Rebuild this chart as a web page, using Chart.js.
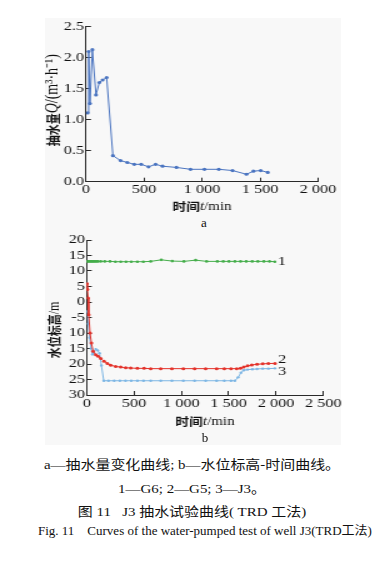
<!DOCTYPE html>
<html>
<head>
<meta charset="utf-8">
<script src="https://cdn.jsdelivr.net/npm/chart.js@4.4.1/dist/chart.umd.min.js"></script>
<style>
  body { margin: 0; width: 384px; height: 563px; background: #fff; position: relative; overflow: hidden;
         font-family: "Liberation Serif", "Noto Sans CJK SC", serif; color: #111; }
  #panel { position: absolute; left: 45px; top: 18px; width: 296px; height: 427px; background: #f8f8f8; }
  .wrap { position: absolute; left: 0; width: 307px; transform: scaleX(1.25); transform-origin: 0 0; }
  #wrapA { top: 0; height: 215px; }
  #wrapB { top: 225px; height: 210px; }
  .sub { position: absolute; font-size: 13px; line-height: 14px; width: 20px; text-align: center; }
  .cap { position: absolute; left: 0; width: 384px; text-align: center; font-size: 13px; line-height: 16px;
         white-space: nowrap; transform: scaleX(1.15); transform-origin: 192px 50%; }
  #cap4 { text-align: left; left: 38px; width: auto; transform: scaleX(1.04); transform-origin: 0 50%; font-size: 12.5px; }
</style>
</head>
<body>
<div id="panel"></div>
<div class="wrap" id="wrapA"><canvas id="chartA"></canvas></div>
<div class="sub" style="left:194px;top:216px;">a</div>
<div class="wrap" id="wrapB"><canvas id="chartB"></canvas></div>
<div class="sub" style="left:195px;top:431px;">b</div>
<div class="cap" style="top:457px;">a—抽水量变化曲线; b—水位标高-时间曲线。</div>
<div class="cap" style="top:481px;">1—G6; 2—G5; 3—J3。</div>
<div class="cap" style="top:504px;">图 11&nbsp;&nbsp;&nbsp;J3 抽水试验曲线( TRD 工法)</div>
<div class="cap" id="cap4" style="top:523px;">Fig. 11&nbsp;&nbsp;&nbsp;&nbsp;Curves of the water-pumped test of well J3(TRD工法)</div>

<script>
// ---- 图 a: 抽水量 ----
const timeA = [14, 23, 34, 55, 86, 115, 143, 178, 232, 298, 356, 416, 476, 539, 600, 660, 780, 901, 1021, 1145, 1263, 1383, 1443, 1506, 1567];
const flowA = [1.11, 2.10, 1.26, 2.13, 1.40, 1.60, 1.64, 1.68, 0.42, 0.34, 0.31, 0.28, 0.28, 0.24, 0.28, 0.25, 0.23, 0.20, 0.20, 0.20, 0.18, 0.12, 0.17, 0.18, 0.15];
const xTicksA = [0, 500, 1000, 1500, 2000];
const xLabelsA = ['0', '500', '1 000', '1 500', '2 000'];
const yTicksA = [0, 0.5, 1, 1.5, 2, 2.5];
const yLabelsA = ['0.0', '0.5', '1.0', '1.5', '2.0', '2.5'];

// ---- 图 b: 水位标高 ----
const timeG6 = [0, 12, 25, 38, 50, 63, 76, 90, 105, 120, 148, 190, 246, 303, 359, 415, 471, 535, 598, 676, 788, 904, 1027, 1151, 1267, 1380, 1443, 1503, 1566, 1626, 1686, 1749, 1809, 1872, 1932, 1988];
const levelG6 = [13.1, 13.1, 13.1, 13.1, 13.1, 13.1, 13.1, 13.1, 13.1, 13.1, 13.1, 13.1, 13.1, 13.0, 13.0, 13.0, 13.0, 13.0, 13.0, 13.1, 13.6, 13.2, 13.1, 13.5, 13.1, 13.1, 13.1, 13.1, 13.1, 13.1, 13.1, 13.1, 13.1, 13.1, 13.1, 13.0];
const timeG5 = [0, 7, 14, 21, 35, 49, 67, 95, 120, 148, 183, 218, 254, 306, 359, 412, 465, 535, 606, 676, 782, 900, 1021, 1140, 1257, 1373, 1454, 1525, 1585, 1625, 1660, 1700, 1745, 1800, 1860, 1920, 1990];
const levelG5 = [6.0, 4.0, 1.3, -4.1, -10.0, -13.2, -15.9, -17.0, -17.5, -18.2, -19.1, -19.8, -20.4, -20.8, -21.0, -21.2, -21.3, -21.4, -21.4, -21.5, -21.5, -21.5, -21.5, -21.5, -21.5, -21.5, -21.5, -21.5, -21.5, -21.4, -21.0, -20.6, -20.3, -20.1, -19.95, -19.85, -19.8];
const timeJ3 = [5, 15, 30, 45, 60, 75, 95, 115, 135, 155, 180, 230, 290, 350, 410, 470, 535, 600, 676, 782, 900, 1021, 1140, 1257, 1373, 1454, 1525, 1566, 1600, 1630, 1660, 1700, 1750, 1800, 1860, 1920, 1989];
const levelJ3 = [-3.0, -7.0, -11.5, -15.0, -16.9, -16.3, -15.2, -15.6, -16.5, -20.5, -25.4, -25.4, -25.4, -25.4, -25.4, -25.4, -25.4, -25.4, -25.4, -25.4, -25.4, -25.4, -25.4, -25.4, -25.4, -25.4, -25.4, -25.4, -24.3, -22.8, -22.0, -21.8, -21.7, -21.6, -21.5, -21.5, -21.4];
const xTicksB = [0, 500, 1000, 1500, 2000, 2500];
const xLabelsB = ['0', '500', '1 000', '1 500', '2 000', '2 500'];
const yTicksB = [20, 15, 10, 5, 0, -5, -10, -15, -20, -25, -30];
const yLabelsB = ['20', '15', '10', '5', '0', '-5', '10', '15', '20', '25', '30'];

const AXIS = '#2a2a2a';
const TICK_FONT = { family: '"Liberation Serif", serif', size: 13 };
const CJK_BOLD = 'bold 11px "Noto Sans CJK SC"';
const SERIF = '12px "Liberation Serif"';
const SERIF_I = 'italic 12px "Liberation Serif"';
const SERIF_BIG = '14px "Liberation Serif"';
const SERIF_BIG_I = 'italic 14px "Liberation Serif"';

function toPoints(xs, ys) {
    return xs.map((x, i) => ({ x: x, y: ys[i] }));
}

// 轴标题: 分段不同字体
function drawRuns(ctx, runs, cx, cy, rot) {
    let total = 0;
    runs.forEach(r => { ctx.font = r.font; total += ctx.measureText(r.text).width; });
    ctx.save();
    ctx.translate(cx, cy);
    ctx.rotate(rot);
    ctx.textAlign = 'left';
    ctx.textBaseline = 'middle';
    let x = -total / 2;
    runs.forEach(r => {
        ctx.font = r.font;
        ctx.fillText(r.text, x, 0);
        x += ctx.measureText(r.text).width;
    });
    ctx.restore();
}

const axisTitlePlugin = {
    id: 'axisTitle',
    afterDraw(chart, args, opts) {
        const { ctx, chartArea } = chart;
        ctx.save();
        ctx.fillStyle = '#111';
        drawRuns(ctx, opts.y, chartArea.left + opts.yDx, (chartArea.top + chartArea.bottom) / 2 + opts.yDy, -Math.PI / 2);
        drawRuns(ctx, opts.x, (chartArea.left + chartArea.right) / 2, chartArea.bottom + opts.xDy, 0);
        ctx.restore();
    }
};

// 曲线末端编号 1/2/3
const endLabelPlugin = {
    id: 'endLabel',
    afterDatasetsDraw(chart, args, opts) {
        if (!opts.show) return;
        const ctx = chart.ctx;
        ctx.save();
        ctx.font = '13px "Liberation Serif"';
        ctx.fillStyle = '#111';
        ctx.textBaseline = 'middle';
        chart.data.datasets.forEach((ds, i) => {
            const pts = chart.getDatasetMeta(i).data;
            const last = pts[pts.length - 1];
            ctx.fillText(ds.label, last.x + 2.5, last.y + opts.dy[i]);
        });
        ctx.restore();
    }
};

function makeScale(min, max, ticks, labels, isX, fitSize) {
    return {
        type: 'linear',
        min: min,
        max: max,
        afterBuildTicks: s => { s.ticks = ticks.map(v => ({ value: v })); },
        afterFit: s => { if (isX) s.height = fitSize; else s.width = fitSize; },
        ticks: {
            color: '#111',
            font: TICK_FONT,
            padding: isX ? 4.5 : 5.5,
            maxRotation: 0,
            autoSkip: false,
            callback: (v, i) => labels[i]
        },
        grid: { drawOnChartArea: false, drawTicks: true, tickLength: -4, color: AXIS, tickColor: AXIS, lineWidth: 1 },
        border: { display: true, color: AXIS, width: 1 }
    };
}

function seriesStyle(color, r) {
    return {
        borderColor: color,
        backgroundColor: color,
        borderWidth: 1,
        pointRadius: r,
        pointBorderWidth: 0,
        pointBackgroundColor: color,
        tension: 0,
        fill: false
    };
}

new Chart(document.getElementById('chartA'), {
    type: 'line',
    data: {
        datasets: [Object.assign({ label: 'Q', data: toPoints(timeA, flowA) }, seriesStyle('#4a74c0', 1.6))]
    },
    options: {
        responsive: true,
        maintainAspectRatio: false,
        animation: false,
        layout: { padding: { left: 0, right: 52.6, top: 26.7, bottom: 0 } },
        scales: {
            x: makeScale(0, 2000, xTicksA, xLabelsA, true, 33.3),
            y: makeScale(0, 2.5, yTicksA, yLabelsA, false, 68.8)
        },
        plugins: {
            legend: { display: false },
            tooltip: { enabled: false },
            axisTitle: {
                y: [{ text: '抽水量', font: CJK_BOLD }, { text: 'Q', font: SERIF_BIG_I }, { text: '/(m³·h⁻¹)', font: SERIF_BIG }],
                yDx: -26.4, yDy: -4,
                x: [{ text: '时间', font: CJK_BOLD }, { text: 't', font: SERIF_I }, { text: '/min', font: SERIF }],
                xDy: 25.5
            },
            endLabel: { show: false }
        }
    },
    plugins: [axisTitlePlugin, endLabelPlugin]
});

new Chart(document.getElementById('chartB'), {
    type: 'line',
    data: {
        datasets: [
            Object.assign({ label: '1', data: toPoints(timeG6, levelG6) }, seriesStyle('#44ad4a', 1.3)),
            Object.assign({ label: '2', data: toPoints(timeG5, levelG5) }, seriesStyle('#e3322a', 1.5)),
            Object.assign({ label: '3', data: toPoints(timeJ3, levelJ3) }, seriesStyle('#7db6e4', 1.2))
        ]
    },
    options: {
        responsive: true,
        maintainAspectRatio: false,
        animation: false,
        layout: { padding: { left: 0, right: 48.4, top: 15, bottom: 0 } },
        scales: {
            x: makeScale(0, 2500, xTicksB, xLabelsB, true, 40),
            y: makeScale(-30, 20, yTicksB, yLabelsB, false, 69.4)
        },
        plugins: {
            legend: { display: false },
            tooltip: { enabled: false },
            axisTitle: {
                y: [{ text: '水位标高', font: CJK_BOLD }, { text: '/m', font: SERIF }],
                yDx: -25.4, yDy: 12.5,
                x: [{ text: '时间', font: CJK_BOLD }, { text: 't', font: SERIF_I }, { text: '/min', font: SERIF }],
                xDy: 27
            },
            endLabel: { show: true, dy: [0, -4, 3.5] }
        }
    },
    plugins: [axisTitlePlugin, endLabelPlugin]
});
</script>
</body>
</html>
